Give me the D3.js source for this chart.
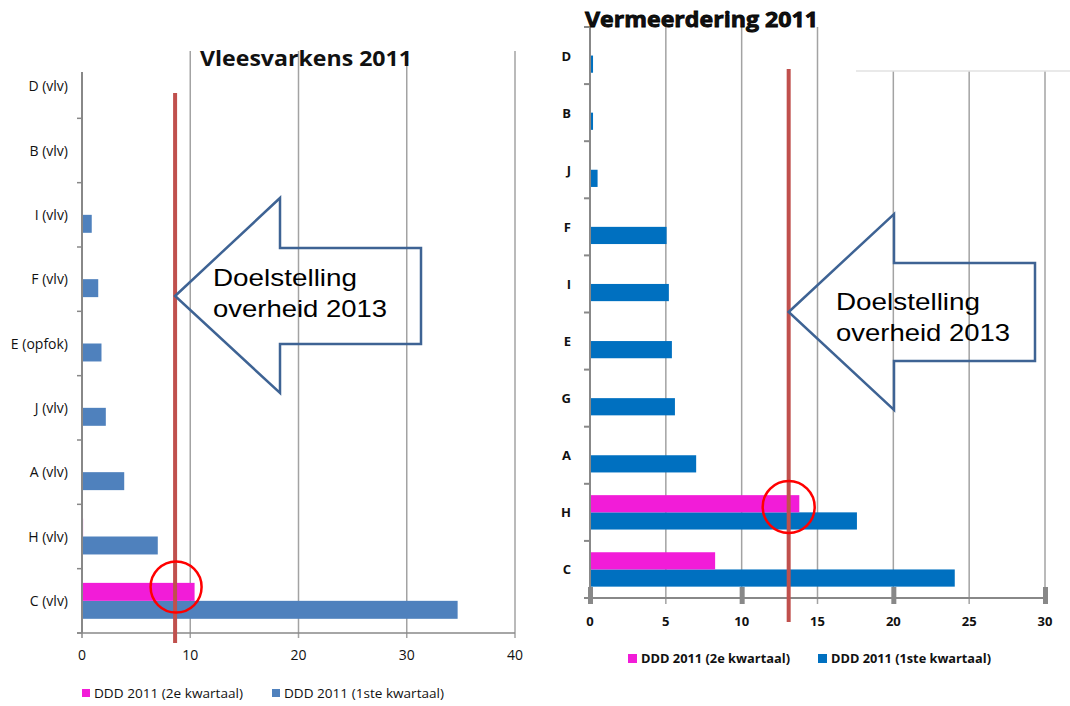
<!DOCTYPE html>
<html>
<head>
<meta charset="utf-8">
<style>
    body { margin: 0; background: #fff; }
    svg { display: block; }
    .lab { font-family: "Open Sans", sans-serif; fill: #111; }
    .bold { font-family: "Open Sans", sans-serif; font-weight: 700; fill: #111; }
    .callout { font-family: "Liberation Sans", Arial, sans-serif; font-size: 24px; fill: #000; }
</style>
</head>
<body>
<svg id="chart"></svg>
<script src="https://cdnjs.cloudflare.com/ajax/libs/d3/7.8.5/d3.min.js"></script>
<script>
    let width = 1070,
        height = 706;

    // Vleesvarkens 2011
    const leftCats = ["D (vlv)", "B (vlv)", "I (vlv)", "F (vlv)", "E (opfok)", "J (vlv)", "A (vlv)", "H (vlv)", "C (vlv)"]
    const leftQ1 = [0, 0, 0.9, 1.5, 1.8, 2.2, 3.9, 7.0, 34.7]
    const leftQ2 = [0, 0, 0, 0, 0, 0, 0, 0.1, 10.4]
    const leftTicks = [0, 10, 20, 30, 40]
    const leftTarget = 8.6

    // Vermeerdering 2011
    const rightCats = ["D", "B", "J", "F", "I", "E", "G", "A", "H", "C"]
    const rightQ1 = [0.2, 0.2, 0.5, 5.05, 5.2, 5.4, 5.6, 7.0, 17.6, 24.05]
    const rightQ2 = [0, 0, 0, 0, 0, 0, 0, 0, 13.8, 8.25]
    const rightTicks = [0, 5, 10, 15, 20, 25, 30]
    const rightTarget = 13.1

    const seriesNames = ["DDD 2011 (2e kwartaal)", "DDD 2011 (1ste kwartaal)"]
    const pink = "#f21cd8"
    const gridColor = "#a3a3a3"
    const axisColor = "#888"
    const targetColor = "#c0504d"
    const arrowColor = "#3e6394"

    let svg = d3.select("#chart").attr("width", width).attr("height", height)

    function drawArrow(g, tipX, tipY, headX, headTop, bodyTop, bodyRight, bodyBottom, headBottom) {
        let pts = [[tipX, tipY], [headX, headTop], [headX, bodyTop], [bodyRight, bodyTop],
            [bodyRight, bodyBottom], [headX, bodyBottom], [headX, headBottom]]
        g.append("polygon")
            .attr("points", pts.map(p => p.join(",")).join(" "))
            .attr("fill", "none")
            .attr("stroke", arrowColor)
            .attr("stroke-width", 2.5)
            .attr("stroke-linejoin", "miter")
    }

    function drawLeft() {
        let g = svg.append("g")
        let x = d3.scaleLinear().domain([0, 40]).range([82, 515])
        let y = d3.scaleBand().domain(leftCats).range([54, 633])
        let sub = d3.scaleBand().domain(["q2", "q1"]).range([0, y.bandwidth()]).paddingOuter(0.79)

        // gridlines
        g.append("g").selectAll("line").data(leftTicks.slice(1)).enter().append("line")
            .attr("x1", d => x(d)).attr("x2", d => x(d))
            .attr("y1", 51).attr("y2", 638)
            .attr("stroke", gridColor).attr("stroke-width", 1.5)

        // bars
        let rows = leftCats.map((c, i) => ({ cat: c, q1: leftQ1[i], q2: leftQ2[i] }))
        g.append("g").selectAll("rect").data(rows).enter().append("rect")
            .attr("x", x(0)).attr("y", d => y(d.cat) + sub("q1"))
            .attr("width", d => x(d.q1) - x(0)).attr("height", sub.bandwidth())
            .attr("fill", "#4f81bd")
        g.append("g").selectAll("rect").data(rows.filter(d => d.q2 > 0)).enter().append("rect")
            .attr("x", x(0)).attr("y", d => y(d.cat) + sub("q2"))
            .attr("width", d => x(d.q2) - x(0)).attr("height", sub.bandwidth())
            .attr("fill", pink)

        // axes
        g.append("line").attr("x1", x(0)).attr("x2", x(0)).attr("y1", 72).attr("y2", 633)
            .attr("stroke", axisColor).attr("stroke-width", 2)
        g.append("line").attr("x1", 77).attr("x2", x(40)).attr("y1", 633).attr("y2", 633)
            .attr("stroke", axisColor).attr("stroke-width", 1.5)
        g.append("g").selectAll("line").data(leftCats.slice(1).concat(["end"])).enter().append("line")
            .attr("x1", 77).attr("x2", x(0))
            .attr("y1", d => d === "end" ? 633 : y(d)).attr("y2", d => d === "end" ? 633 : y(d))
            .attr("stroke", axisColor).attr("stroke-width", 1.5)
        g.append("line").attr("x1", x(0)).attr("x2", x(0)).attr("y1", 633).attr("y2", 638)
            .attr("stroke", axisColor).attr("stroke-width", 1.5)

        g.append("g").selectAll("text").data(leftCats).enter().append("text")
            .attr("class", "lab").attr("font-size", 14)
            .attr("x", 68).attr("y", d => y(d) + y.bandwidth() / 2 + 5)
            .attr("text-anchor", "end").text(d => d)
        g.append("g").selectAll("text").data(leftTicks).enter().append("text")
            .attr("class", "lab").attr("font-size", 14)
            .attr("x", d => x(d)).attr("y", 660)
            .attr("text-anchor", "middle").text(d => d)

        // title
        g.append("text").attr("class", "bold").attr("font-size", 21)
            .attr("x", 200).attr("y", 66)
            .attr("textLength", 212).attr("lengthAdjust", "spacingAndGlyphs")
            .text("Vleesvarkens 2011")

        // target line + circle
        g.append("line").attr("x1", x(leftTarget)).attr("x2", x(leftTarget))
            .attr("y1", 93).attr("y2", 643)
            .attr("stroke", targetColor).attr("stroke-width", 4)
        g.append("circle").attr("cx", x(leftTarget) + 1).attr("cy", 587).attr("r", 25.5)
            .attr("fill", "none").attr("stroke", "#ff0000").attr("stroke-width", 2.5)

        // arrow
        drawArrow(g, x(leftTarget), 296, 280, 198, 248, 421, 344, 393)
        let t = g.append("text").attr("class", "callout")
        t.append("tspan").attr("x", 213).attr("y", 286)
            .attr("textLength", 144).attr("lengthAdjust", "spacingAndGlyphs").text("Doelstelling")
        t.append("tspan").attr("x", 213).attr("y", 317)
            .attr("textLength", 174).attr("lengthAdjust", "spacingAndGlyphs").text("overheid 2013")

        // legend
        let lg = g.append("g").attr("class", "legend")
        let lx = [82, 272]
        seriesNames.forEach((s, i) => {
            lg.append("rect").attr("x", lx[i]).attr("y", 689).attr("width", 8).attr("height", 8)
                .attr("fill", i === 0 ? pink : "#4f81bd")
            lg.append("text").attr("class", "lab").attr("font-size", 13)
                .attr("x", lx[i] + 12).attr("y", 698)
                .attr("textLength", i === 0 ? 149 : 160).attr("lengthAdjust", "spacingAndGlyphs")
                .text(s)
        })
    }

    function drawRight() {
        let g = svg.append("g")
        let x = d3.scaleLinear().domain([0, 30]).range([590, 1045])
        let y = d3.scaleBand().domain(rightCats).range([27, 598])
        let sub = d3.scaleBand().domain(["q2", "q1"]).range([0, y.bandwidth()]).paddingOuter(0.66)

        // gridlines (the pasted picture hides the top-right part)
        g.append("g").selectAll("line").data(rightTicks.slice(1)).enter().append("line")
            .attr("x1", d => x(d)).attr("x2", d => x(d))
            .attr("y1", d => x(d) > 855 ? 71 : 27).attr("y2", 604)
            .attr("stroke", gridColor).attr("stroke-width", 1.5)
        g.append("line").attr("x1", 856).attr("x2", 1070).attr("y1", 71).attr("y2", 71)
            .attr("stroke", "#e2e2e2").attr("stroke-width", 1.5)

        let rows = rightCats.map((c, i) => ({ cat: c, q1: rightQ1[i], q2: rightQ2[i] }))
        g.append("g").selectAll("rect").data(rows).enter().append("rect")
            .attr("x", x(0)).attr("y", d => y(d.cat) + sub("q1"))
            .attr("width", d => x(d.q1) - x(0)).attr("height", sub.bandwidth())
            .attr("fill", "#0070c0")
        g.append("g").selectAll("rect").data(rows.filter(d => d.q2 > 0)).enter().append("rect")
            .attr("x", x(0)).attr("y", d => y(d.cat) + sub("q2"))
            .attr("width", d => x(d.q2) - x(0)).attr("height", sub.bandwidth())
            .attr("fill", pink)

        // axes
        g.append("line").attr("x1", x(0)).attr("x2", x(0)).attr("y1", 27).attr("y2", 598)
            .attr("stroke", axisColor).attr("stroke-width", 2)
        g.append("line").attr("x1", 584).attr("x2", x(30) + 2).attr("y1", 598).attr("y2", 598)
            .attr("stroke", axisColor).attr("stroke-width", 2)
        g.append("g").selectAll("line").data(rightCats.concat(["end"])).enter().append("line")
            .attr("x1", 584).attr("x2", x(0))
            .attr("y1", d => d === "end" ? 598 : y(d)).attr("y2", d => d === "end" ? 598 : y(d))
            .attr("stroke", axisColor).attr("stroke-width", 2)
        g.append("g").selectAll("rect").data([0, 10, 20, 30]).enter().append("rect")
            .attr("x", d => x(d) - 2).attr("y", 587).attr("width", 5).attr("height", 17)
            .attr("fill", axisColor)

        g.append("g").selectAll("text").data(rightCats).enter().append("text")
            .attr("class", "bold").attr("font-size", 13)
            .attr("x", 571).attr("y", d => y(d) + y.bandwidth() / 2 + 5)
            .attr("text-anchor", "end").text(d => d)
        g.append("g").selectAll("text").data(rightTicks).enter().append("text")
            .attr("class", "bold").attr("font-size", 13)
            .attr("x", d => x(d)).attr("y", 626)
            .attr("text-anchor", "middle").text(d => d)

        g.append("text").attr("class", "bold").attr("font-size", 22)
            .attr("x", 585).attr("y", 27)
            .attr("stroke", "#000").attr("stroke-width", 0.8)
            .attr("textLength", 233).attr("lengthAdjust", "spacingAndGlyphs")
            .text("Vermeerdering 2011")

        g.append("line").attr("x1", x(rightTarget)).attr("x2", x(rightTarget))
            .attr("y1", 69).attr("y2", 622)
            .attr("stroke", targetColor).attr("stroke-width", 4)
        g.append("circle").attr("cx", x(rightTarget)).attr("cy", 507).attr("r", 26)
            .attr("fill", "none").attr("stroke", "#ff0000").attr("stroke-width", 2.5)

        drawArrow(g, x(rightTarget), 312, 894, 214, 263, 1035, 361, 410)
        let t = g.append("text").attr("class", "callout")
        t.append("tspan").attr("x", 836).attr("y", 310)
            .attr("textLength", 144).attr("lengthAdjust", "spacingAndGlyphs").text("Doelstelling")
        t.append("tspan").attr("x", 836).attr("y", 341)
            .attr("textLength", 174).attr("lengthAdjust", "spacingAndGlyphs").text("overheid 2013")

        let lg = g.append("g").attr("class", "legend")
        let lx = [628, 818]
        seriesNames.forEach((s, i) => {
            lg.append("rect").attr("x", lx[i]).attr("y", 654).attr("width", 9).attr("height", 9)
                .attr("fill", i === 0 ? pink : "#0070c0")
            lg.append("text").attr("class", "bold").attr("font-size", 11.5)
                .attr("x", lx[i] + 13).attr("y", 663)
                .attr("textLength", i === 0 ? 149 : 160).attr("lengthAdjust", "spacingAndGlyphs")
                .text(s)
        })
    }

    drawLeft()
    drawRight()
</script>
</body>
</html>
